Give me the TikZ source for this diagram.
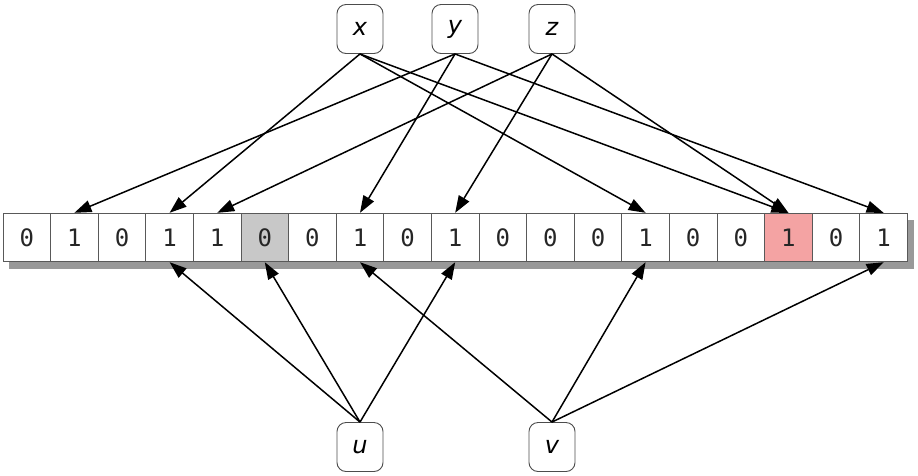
\documentclass[tikz,border=0pt]{standalone}
\usepackage{fontspec}
\newfontfamily\monof{DejaVu Sans Mono}
\newfontfamily\labf{DejaVu Sans}
\usetikzlibrary{arrows.meta}
\definecolor{cellgray}{HTML}{C8C8C8}
\definecolor{cellpink}{HTML}{F4A3A3}
\begin{document}
\begin{tikzpicture}[x=1pt,y=-1pt,
  cell/.style={draw=black!65, line width=0.9pt, minimum width=47.6pt, minimum height=48.5pt, inner sep=0pt,
    font=\monof\fontsize{24}{26}\selectfont, text=black!85},
  key/.style={draw=black!70, rounded corners=9pt, line width=0.9pt, minimum width=46pt, minimum height=49pt,
    inner sep=0pt, font=\labf\itshape\fontsize{24}{26}\selectfont},
  arr/.style={line width=1.5pt, -{Triangle[length=17pt,width=12pt]}}]
\useasboundingbox (0,0) rectangle (918,475);
\fill[black!40] (9,219.5) rectangle (914,268.5);
\foreach \v/\f [count=\i from 0] in {0/white,1/white,0/white,1/white,1/white,0/cellgray,0/white,1/white,0/white,1/white,0/white,0/white,0/white,1/white,0/white,0/white,1/cellpink,0/white,1/white}
  \node[cell, fill=\f] (c\i) at ({3+47.6*(\i+0.5)},237.5) {\v};
\node[key] (x) at (360,29) {x};
\node[key] (y) at (455,29) {y};
\node[key] (z) at (552,29) {z};
\node[key] (u) at (360,447) {u};
\node[key] (v) at (552,447) {v};
\draw[arr] (x.south) -- (c3.north);
\draw[arr] (x.south) -- (c13.north);
\draw[arr] (x.south) -- (c16.north);
\draw[arr] (y.south) -- (c1.north);
\draw[arr] (y.south) -- (c7.north);
\draw[arr] (y.south) -- (c18.north);
\draw[arr] (z.south) -- (c4.north);
\draw[arr] (z.south) -- (c9.north);
\draw[arr] (z.south) -- (c16.north);
\draw[arr] (u.north) -- (c3.south);
\draw[arr] (u.north) -- (c5.south);
\draw[arr] (u.north) -- (c9.south);
\draw[arr] (v.north) -- (c7.south);
\draw[arr] (v.north) -- (c13.south);
\draw[arr] (v.north) -- (c18.south);
\end{tikzpicture}
\end{document}
